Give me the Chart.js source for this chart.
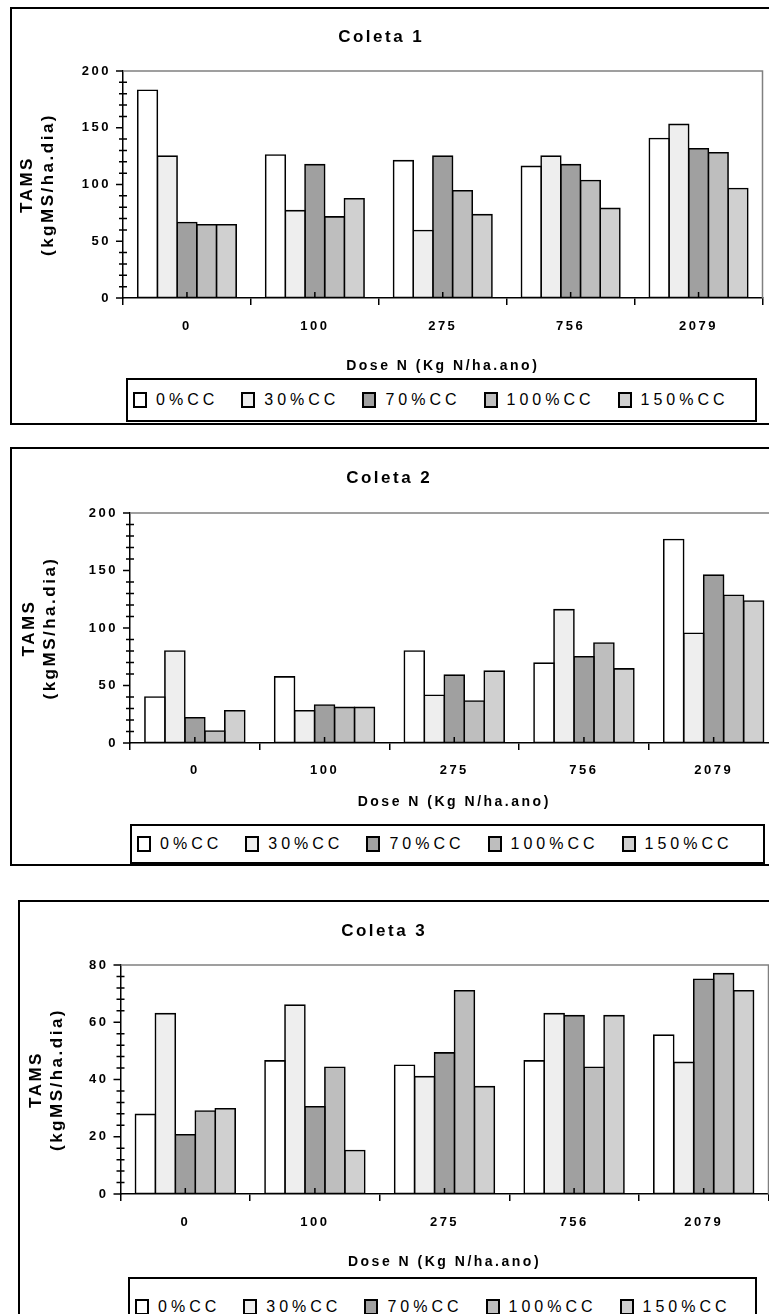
<!DOCTYPE html>
<html>
<head>
<meta charset="utf-8">
<script src="https://cdn.jsdelivr.net/npm/chart.js@4.4.1/dist/chart.umd.min.js"></script>
<style>
  html, body { margin: 0; padding: 0; background: #fff; }
  body { width: 769px; height: 1314px; overflow: hidden; position: relative; font-family: 'Liberation Sans', Arial, sans-serif; }
  canvas { position: absolute; left: 0; }
  .frame { position: absolute; box-sizing: border-box; border: 2px solid #000; width: 820px; }
  .legend { position: absolute; box-sizing: border-box; border: 2px solid #000; background: #fff;
            display: flex; align-items: center; padding-left: 5px; gap: 23px;
            font-size: 16px; letter-spacing: 4px; color: #000; }
  .legend .item { display: flex; align-items: center; white-space: nowrap; }
  .legend .sw { display: inline-block; width: 14px; height: 16px; box-sizing: border-box; border: 2px solid #000; margin-right: 9px; }
</style>
</head>
<body>
<div class="frame" style="left:10px;top:7px;height:418px"></div>
<canvas id="c1" width="800" height="440" style="top:0px"></canvas>
<div class="legend" id="lg1" style="left:126px;top:378px;width:631px;height:44px"></div>

<div class="frame" style="left:10px;top:447px;height:419px"></div>
<canvas id="c2" width="800" height="430" style="top:440px"></canvas>
<div class="legend" id="lg2" style="left:130px;top:824px;width:635px;height:40px"></div>

<div class="frame" style="left:18px;top:900px;height:500px"></div>
<canvas id="c3" width="800" height="434" style="top:880px"></canvas>
<div class="legend" id="lg3" style="left:128px;top:1277px;width:629px;height:60px"></div>

<script>
const doses = ['0', '100', '275', '756', '2079'];
const seriesNames = ['0%CC', '30%CC', '70%CC', '100%CC', '150%CC'];
const seriesColors = ['#ffffff', '#eeeeee', '#a0a0a0', '#bebebe', '#d0d0d0'];
const yTitle = ['TAMS', '(kgMS/ha.dia)'];
const xTitle = 'Dose N (Kg N/ha.ano)';

// Coleta 1 - one array per water level, values by dose
const c1cc0 = [183, 126, 121, 116, 140.5];
const c1cc30 = [125, 77, 59.5, 125, 153];
const c1cc70 = [66.5, 117.5, 125, 117.5, 131.5];
const c1cc100 = [64.5, 71.5, 94.5, 103.5, 128];
const c1cc150 = [64.5, 87.5, 73.5, 79, 96.5];

// Coleta 2
const c2cc0 = [40, 57.5, 80, 69.5, 177];
const c2cc30 = [80, 28, 41.5, 116, 95.5];
const c2cc70 = [22, 33, 59, 75, 146];
const c2cc100 = [10.5, 31, 36.5, 87, 128.5];
const c2cc150 = [28, 31, 62.5, 64.5, 123.5];

// Coleta 3
const c3cc0 = [27.8, 46.5, 45, 46.5, 55.5];
const c3cc30 = [63, 66, 41, 63, 46];
const c3cc70 = [20.7, 30.5, 49.3, 62.3, 75];
const c3cc100 = [29, 44.3, 71, 44.3, 77];
const c3cc150 = [29.8, 15.2, 37.5, 62.3, 71];

Chart.defaults.font.family = "'Liberation Sans', Arial, sans-serif";
Chart.defaults.color = '#000';

// canvas text in these charts is letter-spaced
const spacing = {
  id: 'spacing',
  beforeLayout(chart) { chart.ctx.letterSpacing = '2.5px'; },
  beforeDraw(chart) { chart.ctx.letterSpacing = '2.5px'; }
};

const TITLE_SIZE = 17, TICK_SIZE = 13, XTITLE_SIZE = 14, YTITLE_SIZE = 17;

function makeChart(id, title, series, g) {
  const canvas = document.getElementById(id);
  const W = canvas.width;
  const titleHalf = TITLE_SIZE * 1.2 / 2;
  const tickHalf = TICK_SIZE * 1.2 / 2;
  const xTitleHalf = XTITLE_SIZE * 1.2 / 2;
  const yTitleLine = YTITLE_SIZE * 1.25;

  // minor ticks crossing the y axis, small marks at category centres, grey plot frame
  const axisMarks = {
    id: 'axisMarks',
    afterDraw(chart) {
      const { ctx, chartArea: a, scales: { x, y } } = chart;
      ctx.save();
      ctx.letterSpacing = '0px';
      ctx.lineWidth = 1.5;
      ctx.strokeStyle = '#808080';
      ctx.beginPath();
      ctx.moveTo(a.left, a.top);
      ctx.lineTo(a.right, a.top);
      ctx.lineTo(a.right, a.bottom);
      ctx.stroke();
      ctx.strokeStyle = '#000';
      ctx.beginPath();
      for (let v = 0; v <= g.yMax + 1e-9; v += g.yMinor) {
        const py = y.getPixelForValue(v);
        if (v % g.yStep === 0) {
          ctx.moveTo(a.left - 7, py); ctx.lineTo(a.left, py);
        } else {
          ctx.moveTo(a.left - 4, py); ctx.lineTo(a.left + 4, py);
        }
      }
      x.ticks.forEach((t, i) => {
        const px = x.getPixelForTick(i);
        ctx.moveTo(px, a.bottom);
        ctx.lineTo(px, a.bottom - 6);
      });
      ctx.stroke();
      ctx.restore();
    }
  };

  const chart = new Chart(canvas, {
    type: 'bar',
    data: {
      labels: doses,
      datasets: series.map((vals, i) => ({
        label: seriesNames[i],
        data: vals,
        backgroundColor: seriesColors[i],
        borderColor: '#000',
        borderWidth: 1.6,
        borderSkipped: false,
        inflateAmount: 0.8,
        categoryPercentage: 0.77,
        barPercentage: 1
      }))
    },
    options: {
      responsive: false,
      animation: false,
      events: [],
      layout: { padding: { left: 0, right: W - g.right, top: 0, bottom: g.height - g.xBottom } },
      plugins: {
        legend: { display: false },
        tooltip: { enabled: false },
        title: {
          display: true,
          text: title,
          color: '#000',
          font: { size: TITLE_SIZE, weight: 'bold', lineHeight: 1.2 },
          padding: { top: g.titleY - titleHalf, bottom: g.top - g.titleY - titleHalf }
        }
      },
      scales: {
        x: {
          grid: { offset: true, drawOnChartArea: false, drawTicks: true, tickLength: 7, color: '#000', lineWidth: 1.5 },
          border: { display: true, color: '#000', width: 1.5 },
          ticks: { color: '#000', font: { size: TICK_SIZE, weight: 'bold', lineHeight: 1.2 }, maxRotation: 0, padding: g.labelY - g.bottom - 7 - tickHalf },
          title: {
            display: true, text: xTitle, color: '#000',
            font: { size: XTITLE_SIZE, weight: 'bold', lineHeight: 1.2 },
            padding: { top: 0, bottom: g.xBottom - g.xTitleY - xTitleHalf }
          },
          afterFit: s => { s.height = g.xBottom - g.bottom; }
        },
        y: {
          min: 0,
          max: g.yMax,
          ticks: { stepSize: g.yStep, color: '#000', font: { size: TICK_SIZE, weight: 'bold' }, padding: 12 },
          grid: { drawOnChartArea: false, drawTicks: false },
          border: { display: true, color: '#000', width: 1.5 },
          title: {
            display: true, text: yTitle, color: '#000',
            font: { size: YTITLE_SIZE, weight: 'bold', lineHeight: 1.25 },
            padding: { top: g.yTitleX - yTitleLine / 2, bottom: 0 }
          },
          afterFit: s => { s.width = g.left; }
        }
      }
    },
    plugins: [spacing, axisMarks]
  });

  // legend box under the chart, built from the datasets
  const lg = document.getElementById(g.legend);
  chart.data.datasets.forEach(ds => {
    const item = document.createElement('div');
    item.className = 'item';
    const sw = document.createElement('span');
    sw.className = 'sw';
    sw.style.background = ds.backgroundColor;
    const txt = document.createElement('span');
    txt.textContent = ds.label;
    item.appendChild(sw);
    item.appendChild(txt);
    lg.appendChild(item);
  });
  return chart;
}

makeChart('c1', 'Coleta 1', [c1cc0, c1cc30, c1cc70, c1cc100, c1cc150], {
  yMax: 200, yStep: 50, yMinor: 10, legend: 'lg1', yTitleX: 27,
  left: 123, right: 762.5, titleY: 37, top: 71, bottom: 298, labelY: 326, xTitleY: 366, xBottom: 378, height: 440
});

makeChart('c2', 'Coleta 2', [c2cc0, c2cc30, c2cc70, c2cc100, c2cc150], {
  yMax: 200, yStep: 50, yMinor: 10, legend: 'lg2', yTitleX: 29,
  left: 130, right: 778.5, titleY: 38, top: 73, bottom: 303, labelY: 330, xTitleY: 362, xBottom: 380, height: 430
});

makeChart('c3', 'Coleta 3', [c3cc0, c3cc30, c3cc70, c3cc100, c3cc150], {
  yMax: 80, yStep: 20, yMinor: 4, legend: 'lg3', yTitleX: 36,
  left: 120.5, right: 768.5, titleY: 51, top: 85, bottom: 314, labelY: 342, xTitleY: 382, xBottom: 395, height: 434
});
</script>
</body>
</html>
